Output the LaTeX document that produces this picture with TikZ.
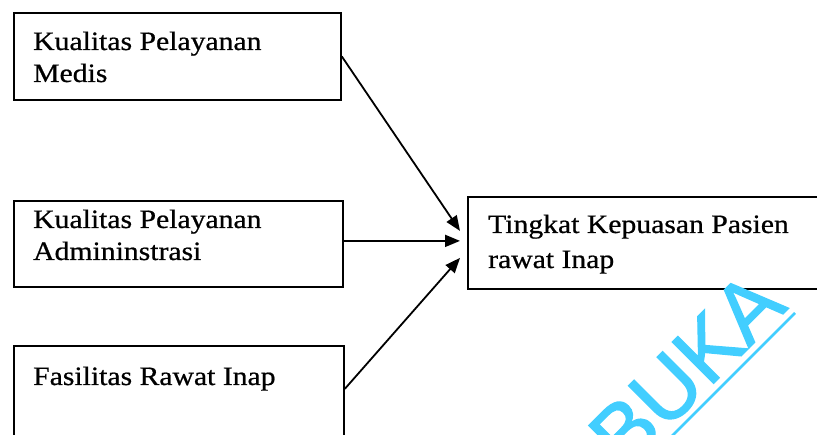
\documentclass[tikz,border=0pt]{standalone}
\usepackage{fontspec}
\setmainfont{Liberation Serif}[FakeStretch=1.12,FakeBold=0.7]
\newfontfamily\wmfont{Liberation Sans}[FakeBold=1.5]
\usetikzlibrary{arrows.meta,calc}
\definecolor{wmcyan}{RGB}{66,206,255}
\begin{document}
\begin{tikzpicture}[x=1pt,y=-1pt,
  box/.style={draw,line width=1.8pt,inner sep=0pt,anchor=north west},
  txt/.style={inner sep=0pt,anchor=base west,font=\fontsize{26.5}{32}\selectfont},
  conn/.style={line width=1.8pt,-{Triangle[length=15pt,width=12pt]}}]
\useasboundingbox (0,0) rectangle (817,435);
\clip (0,0) rectangle (817,435);
% boxes
\node[box,minimum width=327pt,minimum height=87pt] (b1) at (13,12) {};
\node[box,minimum width=329pt,minimum height=86pt] (b2) at (13,200) {};
\node[box,minimum width=330pt,minimum height=100pt] (b3) at (13,345) {};
\node[box,minimum width=380pt,minimum height=92pt] (r) at (467,196) {};
% texts
\node[txt] (t1a) at (33,50) {Kualitas Pelayanan};
\node[txt] (t1b) at (33,82) {Medis};
\node[txt] (t2a) at (33,228) {Kualitas Pelayanan};
\node[txt] (t2b) at (33,260) {Admininstrasi};
\node[txt] (t3a) at (33,385) {Fasilitas Rawat Inap};
\node[txt] (tra) at (488,233) {Tingkat Kepuasan Pasien};
\node[txt] (trb) at (488,268) {rawat Inap};
% target points
\coordinate (e1) at ($(r.west)+(-7,-12)$);
\coordinate (e2) at ($(r.west)+(-7,-2)$);
\coordinate (e3) at ($(r.west)+(-7,15)$);
\coordinate (s2) at ($(b2.east)+(0,-3)$);
\coordinate (s3) at ($(b3.east)+(0,-7)$);
\draw[conn] (b1.east) -- (e1);
\draw[conn] (s2) -- (e2);
\draw[conn] (s3) -- (e3);
% watermark
\node[inner sep=0pt,anchor=base east,rotate=45,text=wmcyan,font=\wmfont\fontsize{85}{85}\selectfont] (wm) at (789,308) {BUKA};
\coordinate (wl1) at (795,313);
\coordinate (wl2) at (640,468);
\draw[wmcyan,line width=2.5pt] (wl1) -- (wl2);
\end{tikzpicture}
\end{document}
